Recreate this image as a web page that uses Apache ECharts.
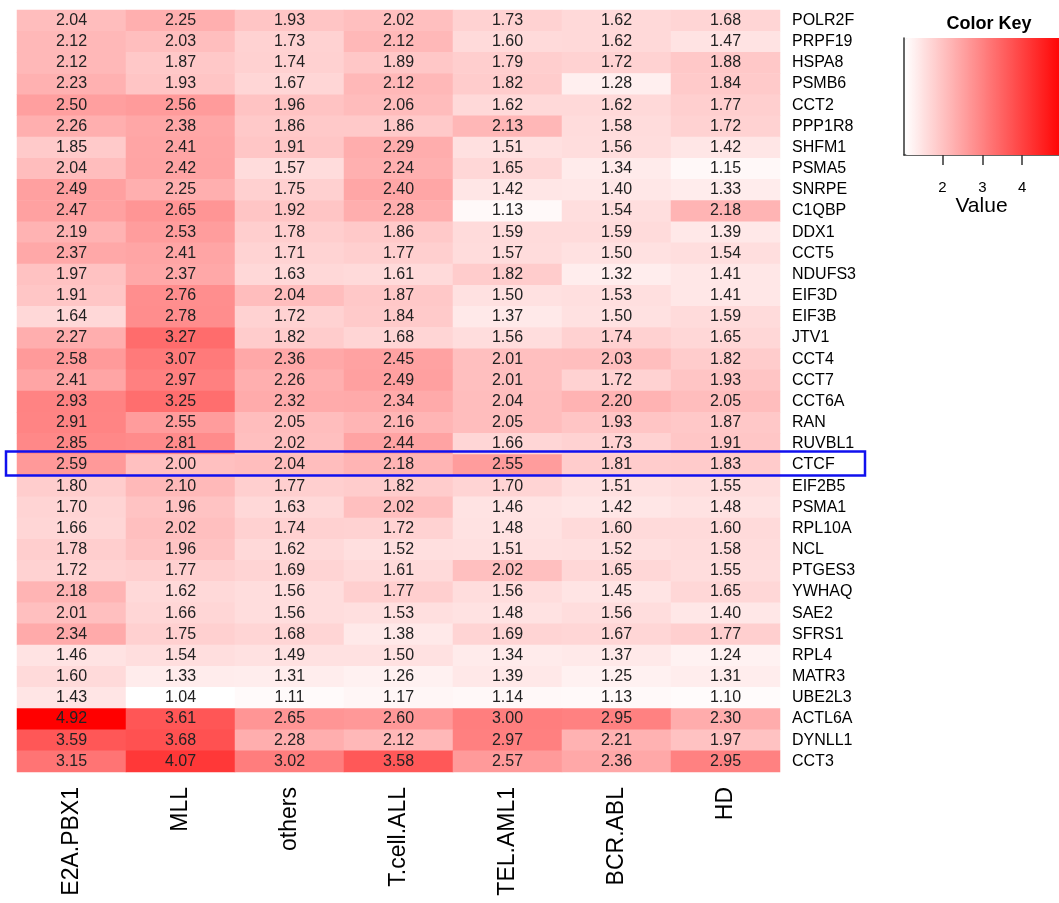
<!DOCTYPE html>
<html><head><meta charset="utf-8">
<script src="https://cdn.jsdelivr.net/npm/echarts@6/dist/echarts.min.js"></script>
<style>html,body{margin:0;padding:0;background:#fff}#c{width:1059px;height:903px}</style>
</head><body><div id="c"></div>
<script>
const groups = ['E2A.PBX1','MLL','others','T.cell.ALL','TEL.AML1','BCR.ABL','HD'];
const genes = ['POLR2F','PRPF19','HSPA8','PSMB6','CCT2','PPP1R8','SHFM1','PSMA5','SNRPE','C1QBP','DDX1','CCT5','NDUFS3','EIF3D','EIF3B','JTV1','CCT4','CCT7','CCT6A','RAN','RUVBL1','CTCF','EIF2B5','PSMA1','RPL10A','NCL','PTGES3','YWHAQ','SAE2','SFRS1','RPL4','MATR3','UBE2L3','ACTL6A','DYNLL1','CCT3'];
const values = [
  [2.04,2.25,1.93,2.02,1.73,1.62,1.68],
  [2.12,2.03,1.73,2.12,1.60,1.62,1.47],
  [2.12,1.87,1.74,1.89,1.79,1.72,1.88],
  [2.23,1.93,1.67,2.12,1.82,1.28,1.84],
  [2.50,2.56,1.96,2.06,1.62,1.62,1.77],
  [2.26,2.38,1.86,1.86,2.13,1.58,1.72],
  [1.85,2.41,1.91,2.29,1.51,1.56,1.42],
  [2.04,2.42,1.57,2.24,1.65,1.34,1.15],
  [2.49,2.25,1.75,2.40,1.42,1.40,1.33],
  [2.47,2.65,1.92,2.28,1.13,1.54,2.18],
  [2.19,2.53,1.78,1.86,1.59,1.59,1.39],
  [2.37,2.41,1.71,1.77,1.57,1.50,1.54],
  [1.97,2.37,1.63,1.61,1.82,1.32,1.41],
  [1.91,2.76,2.04,1.87,1.50,1.53,1.41],
  [1.64,2.78,1.72,1.84,1.37,1.50,1.59],
  [2.27,3.27,1.82,1.68,1.56,1.74,1.65],
  [2.58,3.07,2.36,2.45,2.01,2.03,1.82],
  [2.41,2.97,2.26,2.49,2.01,1.72,1.93],
  [2.93,3.25,2.32,2.34,2.04,2.20,2.05],
  [2.91,2.55,2.05,2.16,2.05,1.93,1.87],
  [2.85,2.81,2.02,2.44,1.66,1.73,1.91],
  [2.59,2.00,2.04,2.18,2.55,1.81,1.83],
  [1.80,2.10,1.77,1.82,1.70,1.51,1.55],
  [1.70,1.96,1.63,2.02,1.46,1.42,1.48],
  [1.66,2.02,1.74,1.72,1.48,1.60,1.60],
  [1.78,1.96,1.62,1.52,1.51,1.52,1.58],
  [1.72,1.77,1.69,1.61,2.02,1.65,1.55],
  [2.18,1.62,1.56,1.77,1.56,1.45,1.65],
  [2.01,1.66,1.56,1.53,1.48,1.56,1.40],
  [2.34,1.75,1.68,1.38,1.69,1.67,1.77],
  [1.46,1.54,1.49,1.50,1.34,1.37,1.24],
  [1.60,1.33,1.31,1.26,1.39,1.25,1.31],
  [1.43,1.04,1.11,1.17,1.14,1.13,1.10],
  [4.92,3.61,2.65,2.60,3.00,2.95,2.30],
  [3.59,3.68,2.28,2.12,2.97,2.21,1.97],
  [3.15,4.07,3.02,3.58,2.57,2.36,2.95]
];
const keyTicks = [2,3,4];
const highlightGene = 'CTCF';
const vMin = 1.04, vMax = 4.92;

const data = [];
values.forEach((row, r) => row.forEach((v, c) => data.push([c, r, v])));

const FONT = '"Liberation Sans", Arial, sans-serif';
const chart = echarts.init(document.getElementById('c'));
chart.setOption({
  animation: false,
  textStyle: { fontFamily: FONT },
  title: {
    text: 'Color Key', left: 984, top: 10, textAlign: 'center',
    textStyle: { fontSize: 18, fontWeight: 'bold', color: '#000', fontFamily: FONT }
  },
  grid: [
    { left: 17, top: 10, width: 763, height: 762 },
    { left: 904, top: 38, width: 159, height: 117 }
  ],
  xAxis: [
    { type: 'category', data: groups, gridIndex: 0, position: 'bottom',
      axisLine: { show: false }, axisTick: { show: false },
      axisLabel: { rotate: 90, fontSize: 23, color: '#000', margin: 15, fontFamily: FONT } },
    { type: 'value', gridIndex: 1, min: vMin, max: vMax, splitLine: { show: false },
      axisLine: { show: true, onZero: false, lineStyle: { color: '#333', width: 1.5 } },
      axisTick: { show: true, length: 10, customValues: keyTicks, lineStyle: { color: '#333', width: 1.5 } },
      axisLabel: { show: true, customValues: keyTicks, fontSize: 15, color: '#000', margin: 25, fontFamily: FONT },
      name: 'Value', nameLocation: 'middle', nameGap: 41,
      nameTextStyle: { fontSize: 21, color: '#000', fontFamily: FONT } }
  ],
  yAxis: [
    { type: 'category', data: genes, inverse: true, gridIndex: 0, position: 'right',
      axisLine: { show: false }, axisTick: { show: false },
      axisLabel: { fontSize: 16, color: '#000', margin: 12, fontFamily: FONT } },
    { type: 'value', gridIndex: 1, min: 0, max: 1, splitLine: { show: false },
      axisLine: { show: true, lineStyle: { color: '#333', width: 1.5 } },
      axisTick: { show: false }, axisLabel: { show: false } }
  ],
  visualMap: {
    type: 'continuous', min: vMin, max: vMax, seriesIndex: 0,
    orient: 'horizontal', left: 905, top: 38, itemWidth: 117, itemHeight: 158,
    padding: 0, calculable: false, text: null, showLabel: false, hoverLink: false,
    inRange: { color: ['#FFFFFF', '#FF0000'] }
  },
  series: [{
    type: 'heatmap', xAxisIndex: 0, yAxisIndex: 0, data: data,
    itemStyle: { borderWidth: 0 },
    label: { show: true, fontSize: 16, color: '#222', fontFamily: FONT,
      formatter: p => p.value[2].toFixed(2) },
    emphasis: { disabled: true }
  }]
});

const cy = chart.convertToPixel({ xAxisIndex: 0, yAxisIndex: 0 }, [0, genes.indexOf(highlightGene)])[1];
chart.setOption({
  graphic: [{
    type: 'rect', z: 100,
    shape: { x: 6, y: cy - 13.5, width: 859, height: 24 },
    style: { fill: 'none', stroke: '#1010ee', lineWidth: 2.5 }
  }]
});
</script></body></html>
